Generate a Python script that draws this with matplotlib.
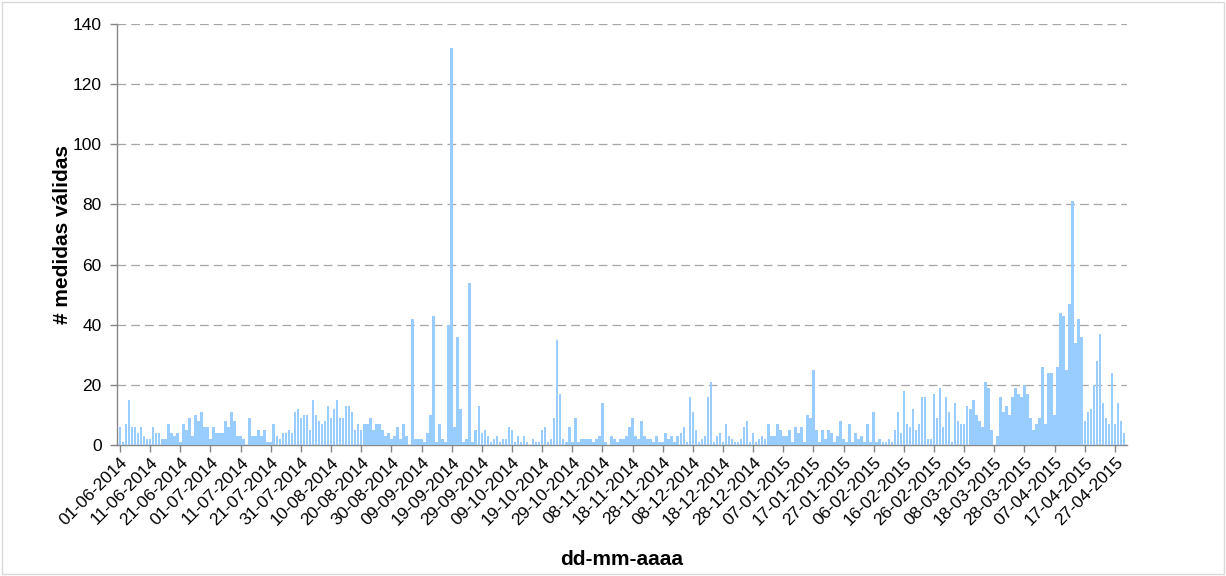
import numpy as np
import pandas as pd
import matplotlib
matplotlib.use("Agg")
import matplotlib.pyplot as plt
from matplotlib.patches import Rectangle

# Daily counts of valid measurements, 01-06-2014 .. 30-04-2015
start_date = "2014-06-01"
values = [
    6, 1, 7, 15, 6, 6, 4, 6, 3, 2, 2, 6, 4, 4, 2, 2, 7, 4, 3, 4, 1, 7, 5, 9, 3, 10, 8,
    11, 6, 6, 2, 6, 4, 4, 4, 8, 6, 11, 8, 3, 3, 2, 0, 9, 3, 3, 5, 3, 5, 1, 1, 7, 3, 2, 4,
    4, 5, 4, 11, 12, 9, 10, 10, 5, 15, 10, 8, 7, 8, 13, 9, 12, 15, 9, 9, 13, 13, 11, 5, 7, 5, 7, 7, 9,
    5, 7, 7, 5, 3, 4, 2, 3, 6, 2, 7, 3, 0, 42, 2, 2, 2, 1, 4, 10, 43, 1, 7, 2, 1, 40, 132, 6, 36,
    12, 1, 2, 54, 1, 5, 13, 4, 5, 3, 1, 2, 3, 1, 2, 2, 6, 5, 1, 3, 1, 3, 1, 0, 2, 1, 1, 5,
    6, 1, 2, 9, 35, 17, 2, 1, 6, 1, 9, 1, 2, 2, 2, 2, 1, 2, 3, 14, 1, 0, 3, 2, 1, 2, 2, 3,
    6, 9, 3, 2, 8, 3, 2, 2, 1, 3, 1, 1, 4, 2, 3, 1, 3, 4, 6, 1, 16, 11, 5, 1, 2, 3, 16, 21,
    1, 3, 4, 1, 7, 3, 2, 1, 1, 2, 6, 8, 1, 4, 1, 2, 3, 2, 7, 3, 3, 7, 5, 3, 3, 5, 1, 6,
    4, 6, 1, 10, 9, 25, 5, 1, 5, 2, 5, 4, 1, 3, 8, 2, 1, 7, 1, 4, 2, 3, 1, 7, 1, 11, 1,
    2, 1, 1, 2, 1, 5, 11, 4, 18, 7, 6, 12, 5, 7, 16, 16, 2, 2, 17, 9, 19, 6, 16, 11, 1, 14, 8, 7, 7,
    13, 12, 15, 10, 8, 6, 21, 19, 5, 0, 3, 16, 11, 13, 10, 16, 19, 17, 16, 20, 17, 9, 5, 7, 9, 26, 7, 24,
    24, 10, 26, 44, 43, 25, 47, 81, 34, 42, 36, 8, 11, 12, 20, 28, 37, 14, 9, 7, 24, 7, 14, 8, 4,
]
dates = pd.date_range(start_date, periods=len(values), freq="D")
tick_step = 10
y_ticks = [0, 20, 40, 60, 80, 100, 120, 140]
y_label = "# medidas válidas"
x_label = "dd-mm-aaaa"

plt.rcParams["font.family"] = ["Liberation Sans", "DejaVu Sans"]

fig = plt.figure(figsize=(12.26, 5.76), dpi=100)
ax = fig.add_axes([117 / 1226, 1 - 445 / 576, (1127 - 117) / 1226, (445 - 24) / 576])

x = np.arange(len(values))
ax.bar(x, values, width=0.85, color="#99CCFF", edgecolor="none", zorder=3)

ax.set_xlim(-1, len(values))
ax.set_ylim(0, 140)
ax.set_yticks(y_ticks)
ax.set_yticklabels([str(v) for v in y_ticks], fontsize=12.5)
tick_idx = x[::tick_step]
ax.set_xticks(tick_idx)
ax.set_xticklabels([dates[i].strftime("%d-%m-%Y") for i in tick_idx],
                   rotation=45, ha="right", rotation_mode="anchor", fontsize=12.5)

ax.yaxis.grid(True, color="#A6A6A6", linestyle=(0, (7, 4)), linewidth=0.9, zorder=0)
ax.set_axisbelow(True)
for s in ["top", "right"]:
    ax.spines[s].set_visible(False)
for s in ["left", "bottom"]:
    ax.spines[s].set_color("#868686")
    ax.spines[s].set_linewidth(1.0)
ax.tick_params(axis="both", colors="#868686", length=5, width=1.0, labelcolor="black")
ax.tick_params(axis="x", pad=2)
ax.tick_params(axis="y", pad=6)

ax.set_ylabel(y_label, fontsize=15, fontweight="bold")
ax.yaxis.set_label_coords(-0.045, 0.5)
ax.set_xlabel(x_label, fontsize=15, fontweight="bold")
ax.xaxis.set_label_coords(0.5, -0.25)

fig.patches.append(Rectangle((0.002, 0.003), 0.996, 0.994, transform=fig.transFigure,
                             fill=False, edgecolor="#D9D9D9", linewidth=1.0))

fig.savefig("out.png", dpi=100, facecolor="white")
